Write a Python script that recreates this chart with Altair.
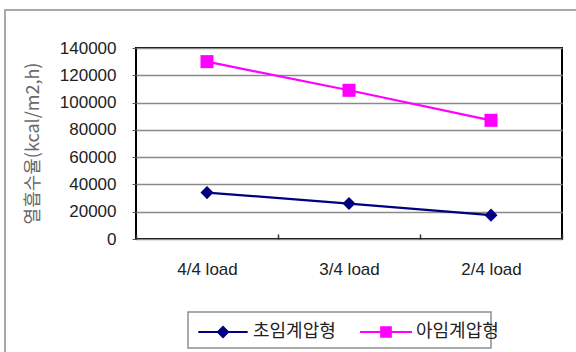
import altair as alt
import pandas as pd

# Load levels on the x axis
loads = ["4/4 load", "3/4 load", "2/4 load"]
# Heat absorption rate per series (kcal/m2,h)
series_names = ["초임계압형", "아임계압형"]
supercritical = [34000, 26000, 17500]
subcritical = [130000, 109000, 87000]
y_ticks = [0, 20000, 40000, 60000, 80000, 100000, 120000, 140000]

rows = []
for name, vals in zip(series_names, [supercritical, subcritical]):
    for load, v in zip(loads, vals):
        rows.append({"load": load, "series": name, "value": v})
df = pd.DataFrame(rows)

colors = ["#000080", "#FF00FF"]
markers = ["diamond", "square"]
# legend symbols: a short line with the marker drawn across it
legend_paths = [
    "M-1.9,-0.08H1.9V0.08H-1.9Z M-0.5,0L0,-0.5L0.5,0L0,0.5Z",
    "M-2,-0.07H2V0.07H-2Z M-0.45,-0.45H0.45V0.45H-0.45Z",
]

color_scale = alt.Scale(domain=series_names, range=colors)

x_enc = alt.X(
    "load:N",
    sort=loads,
    scale=alt.Scale(paddingInner=0, paddingOuter=0),
    axis=alt.Axis(
        title=None,
        labelAngle=0,
        labelFont="Liberation Sans",
        labelFontSize=17,
        labelColor="#222222",
        labelPadding=22,
        tickBand="extent",
        tickSize=5,
        tickColor="#333333",
        tickWidth=1.5,
        offset=-5,
        domain=False,
        grid=False,
    ),
)
y_enc = alt.Y(
    "value:Q",
    scale=alt.Scale(domain=[0, 140000], nice=False),
    axis=alt.Axis(
        values=y_ticks,
        format="d",
        labelOverlap=False,
        title="열흡수율(kcal/m2,h)",
        titleFont="Noto Sans CJK KR",
        titleFontSize=18,
        titleFontWeight="normal",
        titleColor="#6a6a6a",
        titleX=-103,
        titleY=95,
        titleAlign="center",
        titleBaseline="middle",
        labelFont="Liberation Sans",
        labelFontSize=17,
        labelColor="#222222",
        labelPadding=16,
        tickSize=4,
        tickColor="#555555",
        domain=False,
        gridColor="#8a8a8a",
        gridWidth=1.5,
    ),
)

legend = alt.Legend(
    title=None,
    orient="none",
    direction="horizontal",
    legendX=74,
    legendY=271,
    labelFont="Noto Sans CJK KR",
    labelFontSize=18,
    labelColor="#222222",
    labelOffset=17,
    columnPadding=24,
    symbolSize=676,
    symbolStrokeWidth=0,
    symbolOpacity=1,
    padding=0,
)

color_enc = alt.Color("series:N", sort=series_names, scale=color_scale, legend=legend)

lines = alt.Chart(df).mark_line(strokeWidth=2.2).encode(
    x=x_enc, y=y_enc, color=color_enc
)

# one marker layer per series
marker_layers = []
for name, shape in zip(series_names, markers):
    marker_layers.append(
        alt.Chart(df)
        .transform_filter(alt.datum.series == name)
        .mark_point(filled=True, size=170, opacity=1, shape=shape)
        .encode(x=x_enc, y=y_enc, color=color_enc)
    )

# legend only: no rows survive the filter, the entries come from the scale domains
legend_layer = (
    alt.Chart(df)
    .transform_filter("false")
    .mark_point(filled=True, opacity=1)
    .encode(
        x=x_enc,
        y=y_enc,
        color=color_enc,
        shape=alt.Shape(
            "series:N",
            sort=series_names,
            scale=alt.Scale(domain=series_names, range=legend_paths),
            legend=legend,
        ),
    )
)

# light grey frame around the whole figure
frame = alt.Chart(alt.Data(values=[{}])).mark_rect(
    fill=None, stroke="#a8a8a8", strokeWidth=2
).encode(
    x=alt.value(-131), x2=alt.value(460), y=alt.value(-38), y2=alt.value(330)
)

# box drawn around the legend entries
legend_box = alt.Chart(alt.Data(values=[{}])).mark_rect(
    fill="white", stroke="#8f8f8f", strokeWidth=1.5
).encode(
    x=alt.value(52), x2=alt.value(355), y=alt.value(264), y2=alt.value(300)
)

chart = (
    alt.layer(frame, legend_box, lines, *marker_layers, legend_layer)
    .properties(
        width=426,
        height=191,
        autosize=alt.AutoSizeParams(type="none"),
        padding={"left": 136, "top": 48, "right": 14, "bottom": 113},
    )
    .configure_view(stroke="#000000", strokeWidth=2)
)

chart.save("out.html", embed_options={"renderer": "svg", "actions": False})
